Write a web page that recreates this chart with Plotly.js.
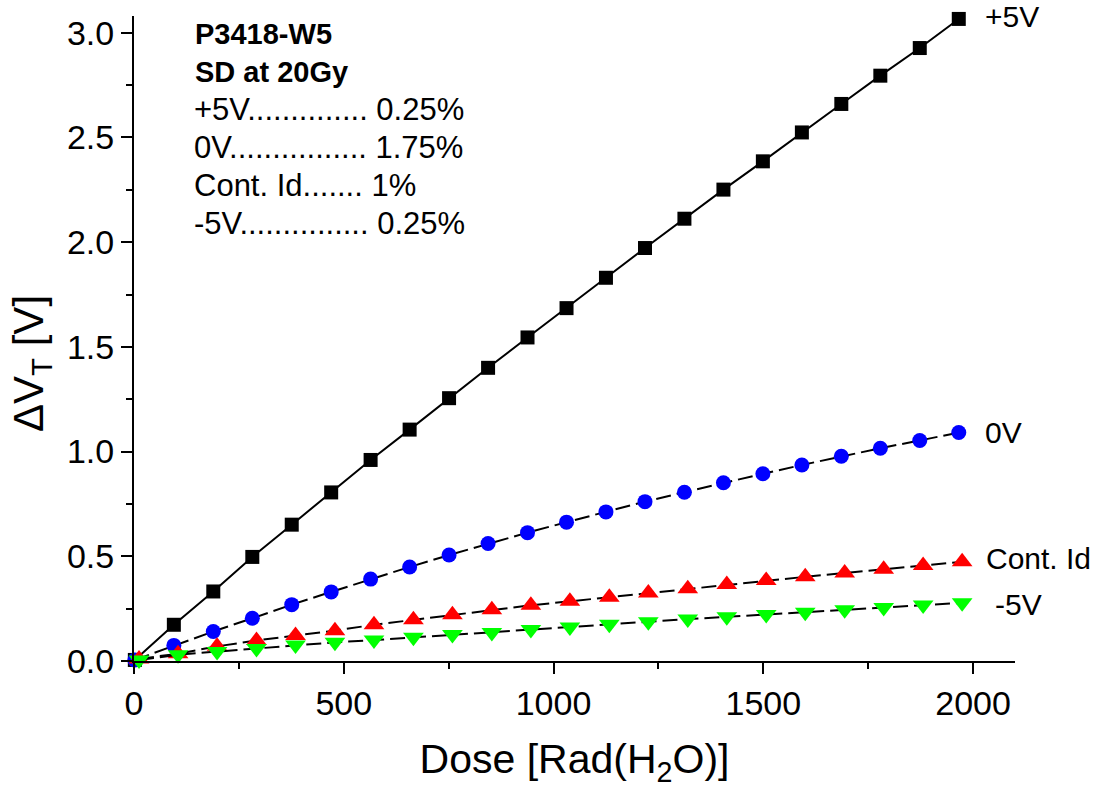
<!DOCTYPE html>
<html>
<head>
<meta charset="utf-8">
<script src="https://cdn.plot.ly/plotly-3.0.1.min.js"></script>
<style>html,body{margin:0;padding:0;background:#fff}#chart{width:1100px;height:791px}</style>
</head>
<body>
<div id="chart"></div>
<script>
// Dose values (Rad(H2O))
const doseA = [2, 95, 189, 282, 376, 470, 564, 657, 751, 844, 938, 1031, 1125, 1218, 1312, 1405, 1499, 1592, 1686, 1779, 1873, 1966];
const doseB = [12, 105, 198, 292, 385, 479, 572, 666, 759, 853, 946, 1039, 1133, 1226, 1320, 1413, 1507, 1600, 1694, 1787, 1881, 1974];
// Delta VT values (V)
const vPlus5 = [0.005, 0.173, 0.332, 0.497, 0.651, 0.805, 0.960, 1.105, 1.255, 1.400, 1.545, 1.685, 1.830, 1.972, 2.112, 2.251, 2.386, 2.524, 2.660, 2.795, 2.927, 3.066];
const v0 = [0.005, 0.0745, 0.141, 0.204, 0.269, 0.330, 0.391, 0.449, 0.506, 0.561, 0.613, 0.663, 0.712, 0.761, 0.806, 0.851, 0.894, 0.936, 0.978, 1.016, 1.053, 1.091];
const vContId = [0.010, 0.035, 0.070, 0.098, 0.122, 0.145, 0.173, 0.197, 0.221, 0.245, 0.266, 0.285, 0.305, 0.325, 0.345, 0.365, 0.385, 0.402, 0.420, 0.438, 0.456, 0.474];
const vMinus5 = [0.005, 0.030, 0.045, 0.060, 0.077, 0.089, 0.100, 0.113, 0.126, 0.136, 0.150, 0.162, 0.175, 0.188, 0.200, 0.211, 0.222, 0.233, 0.245, 0.256, 0.267, 0.278];
const seriesNames = ["+5V", "0V", "Cont. Id", "-5V"];
const infoTitle = ["P3418-W5", "SD at 20Gy"];
const infoLines = [
  "+5V" + ".".repeat(14) + " 0.25%",
  "0V" + ".".repeat(16) + " 1.75%",
  "Cont. Id" + ".".repeat(7) + " 1%",
  "-5V" + ".".repeat(15) + " 0.25%"
];

const FONT = "'Liberation Sans', Arial, sans-serif";

const traces = [
  {x: doseA, y: vPlus5, name: seriesNames[0], mode: "lines+markers",
   line: {color: "#000", width: 2},
   marker: {symbol: "square", size: 14, color: "#000"}},
  {x: doseA, y: v0, name: seriesNames[1], mode: "lines+markers",
   line: {color: "#000", width: 2, dash: "15px,6px"},
   marker: {symbol: "circle", size: 15, color: "#0000FF"}},
  {x: doseB, y: vContId, name: seriesNames[2], mode: "lines+markers",
   line: {color: "#000", width: 2, dash: "15px,6px"},
   marker: {symbol: "triangle-up", size: 18, color: "#FF0000"}},
  {x: doseB, y: vMinus5, name: seriesNames[3], mode: "lines+markers",
   line: {color: "#000", width: 2, dash: "15px,6px"},
   marker: {symbol: "triangle-down", size: 18, color: "#00FF00"}}
];
traces.forEach(t => { t.cliponaxis = false; t.showlegend = false; });

const annotations = [];
const lastPts = [
  [doseA, vPlus5, 24, 2],
  [doseA, v0, 24, 0],
  [doseB, vContId, 22, 3],
  [doseB, vMinus5, 31, -2]
];
lastPts.forEach((p, i) => {
  const n = p[0].length - 1;
  annotations.push({x: p[0][n], y: p[1][n], xref: "x", yref: "y", text: seriesNames[i],
    showarrow: false, xanchor: "left", yanchor: "middle", xshift: p[2], yshift: p[3],
    font: {family: FONT, size: 30, color: "#000"}});
});
const L = 134, R = 85, T = 16, B = 130, W = 1100, H = 791;
const px = v => (v - L) / (W - L - R);
const py = v => 1 - (v - T) / (H - T - B);
infoTitle.forEach((t, i) => {
  annotations.push({x: px(193), y: py(34 + i * 37.8), xref: "paper", yref: "paper", text: "<b>" + t + "</b>",
    showarrow: false, xanchor: "left", yanchor: "middle",
    font: {family: FONT, size: 29, color: "#000"}});
});
infoLines.forEach((t, i) => {
  annotations.push({x: px(192), y: py(34 + (i + 2) * 37.8), xref: "paper", yref: "paper", text: t,
    showarrow: false, xanchor: "left", yanchor: "middle",
    font: {family: FONT, size: 31, color: "#000"}});
});
// y-axis title (placed as rotated text, off-centre like the original)
annotations.push({x: px(31), y: py(364), xref: "paper", yref: "paper", text: "ΔV<sub>T</sub> [V]",
  showarrow: false, textangle: -90, xanchor: "center", yanchor: "middle",
  font: {family: FONT, size: 42, color: "#000"}});

const layout = {
  width: W, height: H,
  margin: {l: L, r: R, t: T, b: B, pad: 0},
  paper_bgcolor: "#fff", plot_bgcolor: "#fff",
  font: {family: FONT, color: "#000"},
  showlegend: false,
  xaxis: {
    range: [0, 2100], dtick: 500, tick0: 0,
    ticks: "outside", ticklen: 11, tickwidth: 2, tickcolor: "#000",
    minor: {dtick: 250, ticks: "outside", ticklen: 6, tickwidth: 2, tickcolor: "#000"},
    showline: true, linewidth: 2, linecolor: "#000", showgrid: false, zeroline: false,
    tickfont: {family: FONT, size: 34},
    title: {text: "Dose [Rad(H<sub>2</sub>O)]", font: {family: FONT, size: 41}, standoff: 24}
  },
  yaxis: {
    range: [0, 3.08], dtick: 0.5, tick0: 0, tickformat: ".1f",
    ticks: "outside", ticklen: 11, tickwidth: 2, tickcolor: "#000",
    minor: {dtick: 0.25, ticks: "outside", ticklen: 6, tickwidth: 2, tickcolor: "#000"},
    showline: true, linewidth: 2, linecolor: "#000", showgrid: false, zeroline: false,
    tickfont: {family: FONT, size: 34}
  },
  annotations: annotations
};

Plotly.newPlot("chart", traces, layout, {staticPlot: true, displayModeBar: false});
</script>
</body>
</html>
